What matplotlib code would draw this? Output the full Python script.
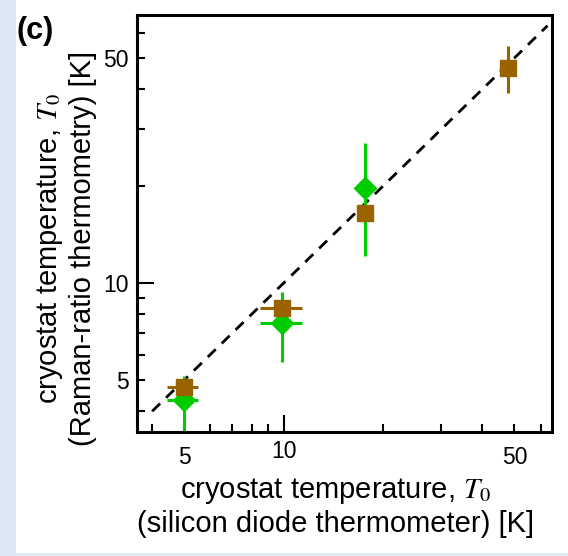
import matplotlib
matplotlib.use("Agg")
import matplotlib.pyplot as plt
from matplotlib.patches import Rectangle
from matplotlib.ticker import FixedLocator, FixedFormatter

plt.rcParams['font.family'] = ['Liberation Sans', 'DejaVu Sans']
plt.rcParams['mathtext.fontset'] = 'stix'

# brown squares
brown_x = [5.0, 9.9, 17.6, 47.9]
brown_y = [4.75, 8.35, 16.5, 46.5]
brown_xlo = [4.45, 8.5, 17.6, 47.9]
brown_xhi = [5.5, 11.4, 17.6, 47.9]
brown_ylo = [4.75, 8.35, 16.5, 38.9]
brown_yhi = [4.75, 8.35, 16.5, 54.5]

# green diamonds
green_x = [5.0, 9.9, 17.6]
green_y = [4.35, 7.5, 19.8]
green_xlo = [4.45, 8.5, 17.6]
green_xhi = [5.5, 11.4, 17.6]
green_ylo = [3.2, 5.7, 12.1]
green_yhi = [5.15, 9.4, 27.2]

diag = [4.0, 63.0]

fig = plt.figure(figsize=(5.68, 5.56), dpi=100)
fig.patch.set_facecolor('#dde8f5')
fig.patches.append(Rectangle((16 / 568, 3 / 556), 1, 1, transform=fig.transFigure,
                             facecolor='white', edgecolor='none', zorder=-10))
ax = fig.add_axes([137 / 568, 124 / 556, 415 / 568, 417 / 556])

ax.plot(diag, diag, color='black', lw=2, dashes=(4, 3), zorder=1)


def errs(v, lo, hi):
    return [[a - b for a, b in zip(v, lo)], [b - a for a, b in zip(v, hi)]]


ax.errorbar(green_x, green_y, xerr=errs(green_x, green_xlo, green_xhi),
            yerr=errs(green_y, green_ylo, green_yhi), fmt='D', color='#00cc00',
            ms=11, elinewidth=2.2, capsize=0, zorder=2)
ax.errorbar(brown_x, brown_y, xerr=errs(brown_x, brown_xlo, brown_xhi),
            yerr=errs(brown_y, brown_ylo, brown_yhi), fmt='s', color='#9a6300',
            ms=11.5, elinewidth=2.2, capsize=0, zorder=3)

ax.set_xscale('log')
ax.set_yscale('log')
ax.set_xlim(3.6, 65)
ax.set_ylim(3.45, 68)

minors = [4, 5, 6, 7, 8, 9, 20, 30, 40, 50, 60]
minor_labels = ['', '5', '', '', '', '', '', '', '', '50', '']
for axis in (ax.xaxis, ax.yaxis):
    axis.set_major_locator(FixedLocator([10]))
    axis.set_major_formatter(FixedFormatter(['10']))
    axis.set_minor_locator(FixedLocator(minors))
    axis.set_minor_formatter(FixedFormatter(minor_labels))

ax.tick_params(which='both', direction='in', top=False, right=False,
               labelsize=16.5, width=1.5, color='black')
ax.tick_params(which='major', length=12)
ax.tick_params(which='minor', length=6)
ax.tick_params(axis='x', which='major', pad=6)
ax.tick_params(axis='x', which='minor', pad=10)
ax.tick_params(axis='y', which='both', pad=6)

for s in ax.spines.values():
    s.set_linewidth(2.2)

ax.set_xlabel('cryostat temperature, $T_0$\n(silicon diode thermometer) [K]',
              fontsize=21)
ax.set_ylabel('cryostat temperature, $T_0$\n(Raman-ratio thermometry) [K]',
              fontsize=21)
ax.xaxis.label.set_va('baseline')
ax.yaxis.label.set_va('baseline')
ax.xaxis.set_label_coords(0.478, -0.240, transform=ax.transAxes)
ax.yaxis.set_label_coords(-0.1205, 0.441, transform=ax.transAxes)

fig.text(17 / 568, 1 - 31 / 556, '(c)', fontsize=22, fontweight='bold',
         va='center', ha='left')

fig.savefig('out.png', dpi=100, facecolor=fig.get_facecolor())
